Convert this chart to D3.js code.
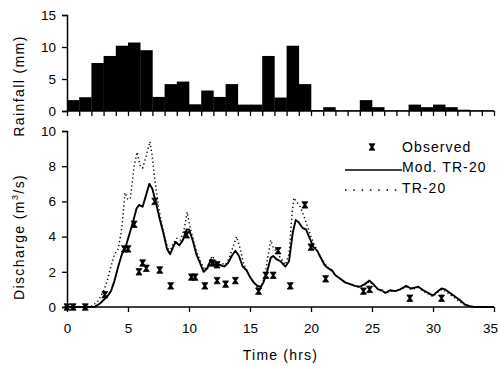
<!DOCTYPE html>
<html>
<head>
<meta charset="utf-8">
<script src="https://cdn.jsdelivr.net/npm/d3@7"></script>
<style>
  body { margin: 0; background: #fff; }
  svg text { font-family: "Liberation Sans", Arial, sans-serif; fill: #000; }
</style>
</head>
<body>
<div id="chart"></div>
<script>
// hourly rainfall (mm), one bar per hour starting at t = 0
const rainfall = [1.7, 2.15, 7.5, 8.6, 10.2, 10.7, 9.5, 2.2, 4.2, 4.6, 1.05, 3.2, 2.2, 4.2, 1.0,
  1.0, 8.6, 2.1, 10.2, 4.2, 0.15, 0.6, 0.1, 0.1, 1.7, 0.6, 0.1, 0.1, 1.0, 0.6, 1.0, 0.6, 0.2, 0.1, 0.1];

// observed discharge [time (hrs), m3/s]
const observed = [[0, 0], [0.5, 0], [1.5, 0], [3.1, 0.7], [4.7, 3.3], [5.0, 3.3], [5.5, 4.7], [5.9, 2.0],
  [6.2, 2.5], [6.5, 2.2], [7.2, 6.0], [7.6, 2.1], [8.5, 1.2], [9.8, 4.1], [10.2, 1.7], [10.5, 1.7],
  [11.3, 1.2], [11.9, 2.5], [12.3, 2.4], [12.3, 1.5], [13.0, 1.3], [13.8, 1.5], [15.7, 0.9], [16.3, 1.8],
  [16.9, 1.8], [17.3, 3.2], [18.3, 1.2], [19.5, 5.8], [20.0, 3.4], [21.2, 1.6], [24.3, 0.9], [24.8, 1.0],
  [28.1, 0.5], [30.7, 0.5]];

// Mod. TR-20 simulated hydrograph
const modTR20 = [[0, 0], [1, 0], [2, 0], [2.3, 0.02], [2.7, 0.2], [3.0, 0.4], [3.3, 0.6], [3.6, 0.9],
  [3.9, 1.5], [4.2, 2.3], [4.5, 3.0], [4.8, 3.4], [5.1, 4.1], [5.4, 4.8], [5.7, 5.6], [5.9, 5.8],
  [6.2, 5.7], [6.5, 6.4], [6.75, 7.0], [7.0, 6.7], [7.3, 5.9], [7.6, 5.0], [7.9, 4.2], [8.2, 3.3],
  [8.45, 3.0], [8.7, 3.4], [8.9, 3.7], [9.2, 3.5], [9.5, 3.8], [9.8, 4.4], [10.0, 4.4], [10.3, 3.8],
  [10.6, 3.0], [10.9, 2.5], [11.2, 2.0], [11.5, 2.2], [11.8, 2.7], [12.1, 2.4], [12.5, 2.4], [12.9, 2.3],
  [13.2, 2.5], [13.5, 2.9], [13.8, 3.2], [14.1, 2.9], [14.4, 2.3], [14.7, 2.1], [15.0, 1.7], [15.3, 1.4],
  [15.6, 1.2], [15.9, 1.15], [16.1, 1.4], [16.4, 2.0], [16.7, 2.8], [16.9, 2.9], [17.2, 2.7], [17.5, 2.6],
  [17.9, 2.3], [18.2, 2.6], [18.5, 4.2], [18.75, 4.95], [19.0, 4.8], [19.3, 4.5], [19.6, 4.4], [19.9, 3.9],
  [20.2, 3.4], [20.5, 3.2], [20.8, 2.8], [21.1, 2.4], [21.4, 2.2], [21.7, 2.1], [22.0, 1.8], [22.4, 1.6],
  [22.8, 1.4], [23.2, 1.3], [23.6, 1.2], [24.0, 1.15], [24.4, 1.3], [24.8, 1.5], [25.1, 1.3], [25.5, 1.0],
  [25.8, 0.95], [26.1, 0.8], [26.5, 0.95], [26.9, 0.9], [27.3, 1.0], [27.8, 1.2], [28.2, 1.05], [28.5, 1.1],
  [28.8, 1.15], [29.2, 0.95], [29.6, 0.8], [30.0, 0.65], [30.4, 0.9], [30.7, 1.05], [31.0, 1.0], [31.4, 0.8],
  [31.8, 0.6], [32.2, 0.4], [32.6, 0.15], [33.0, 0.05], [33.4, 0], [35, 0]];

// original TR-20 simulated hydrograph
const TR20 = [[0, 0], [1.5, 0], [2.0, 0.05], [2.5, 0.3], [3.0, 0.9], [3.3, 1.5], [3.6, 2.3], [3.9, 3.0],
  [4.2, 3.3], [4.5, 4.5], [4.75, 6.5], [5.0, 6.1], [5.2, 6.2], [5.5, 8.0], [5.75, 8.8], [6.0, 8.0],
  [6.2, 7.9], [6.5, 8.6], [6.8, 9.4], [7.0, 8.5], [7.2, 7.2], [7.5, 5.7], [7.8, 4.6], [8.1, 3.7],
  [8.4, 3.1], [8.7, 3.6], [9.0, 3.9], [9.3, 3.8], [9.6, 4.4], [9.85, 5.4], [10.1, 4.5], [10.4, 3.7],
  [10.7, 3.0], [11.0, 2.5], [11.3, 2.1], [11.6, 2.4], [11.9, 2.9], [12.2, 2.6], [12.6, 2.5], [13.0, 2.4],
  [13.3, 2.8], [13.6, 3.4], [13.9, 4.0], [14.2, 3.3], [14.5, 2.4], [14.8, 2.0], [15.2, 1.5], [15.6, 1.1],
  [15.9, 1.1], [16.2, 1.7], [16.5, 3.0], [16.7, 3.8], [16.9, 3.4], [17.2, 3.1], [17.6, 2.7], [17.9, 2.4],
  [18.2, 3.0], [18.45, 5.3], [18.6, 6.2], [18.8, 6.0], [19.1, 5.7], [19.4, 5.2], [19.7, 4.6], [20.0, 4.0],
  [20.3, 3.5], [20.6, 3.1], [20.9, 2.7], [21.2, 2.4], [21.6, 2.1], [22.0, 1.8], [22.4, 1.6], [22.8, 1.4],
  [23.2, 1.3], [23.6, 1.2], [24.0, 1.1], [24.4, 1.25], [24.8, 1.45], [25.1, 1.25], [25.5, 1.0], [25.8, 0.9],
  [26.1, 0.8], [26.5, 0.9], [26.9, 0.9], [27.3, 1.0], [27.8, 1.15], [28.2, 1.0], [28.5, 1.05], [28.8, 1.1],
  [29.2, 0.9], [29.6, 0.75], [30.0, 0.6], [30.4, 0.85], [30.7, 1.0], [31.0, 0.9], [31.4, 0.7], [31.8, 0.5],
  [32.2, 0.3], [32.6, 0.12], [33.0, 0.04], [33.5, 0], [35, 0]];

const timeTicks = [0, 5, 10, 15, 20, 25, 30, 35];
const rainTicks = [0, 5, 10, 15];
const flowTicks = [0, 2, 4, 6, 8, 10];

const W = 499, H = 366;
const svg = d3.select('#chart').append('svg').attr('width', W).attr('height', H);

const x = d3.scaleLinear().domain([0, 35]).range([67, 494]);
const yRain = d3.scaleLinear().domain([0, 15]).range([111, 15]);
const yFlow = d3.scaleLinear().domain([0, 10]).range([307, 131]);

// ---- rainfall panel ----
svg.append('g')
  .selectAll('rect')
  .data(rainfall)
  .enter()
  .append('rect')
  .attr('x', (d, i) => x(i))
  .attr('width', (d, i) => x(i + 1) - x(i) + 0.3)
  .attr('y', (d) => yRain(d))
  .attr('height', (d) => yRain(0) - yRain(d))
  .attr('fill', '#000');

const rainX = svg.append('g')
  .attr('transform', `translate(0,${yRain(0)})`)
  .call(d3.axisBottom(x).tickValues(d3.range(0, 36)).tickFormat('').tickSizeOuter(0).tickSize(5));

const rainY = svg.append('g')
  .attr('transform', `translate(${x(0)},0)`)
  .call(d3.axisLeft(yRain).tickValues(rainTicks).tickSizeOuter(0).tickSize(5).tickPadding(6));

// ---- discharge panel ----
const line = d3.line().x((d) => x(d[0])).y((d) => yFlow(d[1]));

svg.append('path')
  .datum(TR20)
  .attr('d', line)
  .attr('fill', 'none')
  .attr('stroke', '#111')
  .attr('stroke-width', 1.5)
  .attr('stroke-dasharray', '1.3,2.7');

svg.append('path')
  .datum(modTR20)
  .attr('d', line)
  .attr('fill', 'none')
  .attr('stroke', '#000')
  .attr('stroke-width', 1.9)
  .attr('stroke-linejoin', 'round');

const marker = 'M-3,-3.2L3,-3.2L0.8,0L3,3.2L-3,3.2L-0.8,0Z';

svg.append('g')
  .selectAll('path')
  .data(observed)
  .enter()
  .append('path')
  .attr('d', marker)
  .attr('transform', (d) => `translate(${x(d[0])},${yFlow(d[1])})`)
  .attr('fill', '#000')
  .attr('stroke', '#000')
  .attr('stroke-width', 0.8);

const flowX = svg.append('g')
  .attr('transform', `translate(0,${yFlow(0)})`)
  .call(d3.axisBottom(x).tickValues(timeTicks).tickSizeOuter(0).tickSize(5).tickPadding(11));

const flowY = svg.append('g')
  .attr('transform', `translate(${x(0)},0)`)
  .call(d3.axisLeft(yFlow).tickValues(flowTicks).tickSizeOuter(0).tickSize(5).tickPadding(6));

// axis styling
[rainX, rainY, flowX, flowY].forEach((g) => {
  g.selectAll('.domain').attr('stroke', '#000').attr('stroke-width', 1.5);
  g.selectAll('.tick line').attr('stroke', '#000').attr('stroke-width', 1.3);
  g.selectAll('.tick text')
    .attr('font-size', 13.5)
    .attr('fill', '#000')
    .style('font-family', '"Liberation Sans", Arial, sans-serif');
});
rainX.select('.domain').attr('d', `M${x(0)},0H${x(35)}`);
flowX.select('.domain').attr('d', `M${x(0) - 3},0H${x(35)}`);
// keep the last time label inside the page
flowX.selectAll('.tick text').filter((d) => d === 35).attr('dx', -4);

// axis titles
svg.append('text')
  .attr('x', x(17.5))
  .attr('y', 360)
  .attr('text-anchor', 'middle')
  .attr('font-size', 14)
  .attr('letter-spacing', 1.2)
  .text('Time (hrs)');

svg.append('text')
  .attr('transform', 'translate(24,86) rotate(-90)')
  .attr('text-anchor', 'middle')
  .attr('font-size', 14)
  .attr('letter-spacing', 1.4)
  .text('Rainfall (mm)');

const dis = svg.append('text')
  .attr('transform', 'translate(24,237) rotate(-90)')
  .attr('text-anchor', 'middle')
  .attr('font-size', 14)
  .attr('letter-spacing', 1.4);
dis.append('tspan').text('Discharge (m');
dis.append('tspan').attr('font-size', 9).attr('dy', -6).text('3');
dis.append('tspan').attr('dy', 6).text('/s)');

// legend
const lg = svg.append('g');
lg.append('path')
  .attr('d', marker)
  .attr('transform', 'translate(372,147)')
  .attr('fill', '#000')
  .attr('stroke', '#000')
  .attr('stroke-width', 0.8);
lg.append('line')
  .attr('x1', 345).attr('x2', 402).attr('y1', 170).attr('y2', 170)
  .attr('stroke', '#000').attr('stroke-width', 1.5);
lg.append('line')
  .attr('x1', 345).attr('x2', 400).attr('y1', 190).attr('y2', 190)
  .attr('stroke', '#000').attr('stroke-width', 1.5)
  .attr('stroke-dasharray', '1.5,6.8');
const legendLabels = ['Observed', 'Mod. TR-20', 'TR-20'];
lg.selectAll('text.lab')
  .data(legendLabels)
  .enter()
  .append('text')
  .attr('class', 'lab')
  .attr('x', 402)
  .attr('y', (d, i) => 151.5 + i * 20.5)
  .attr('font-size', 14)
  .attr('letter-spacing', 1.1)
  .text((d) => d);
</script>
</body>
</html>
